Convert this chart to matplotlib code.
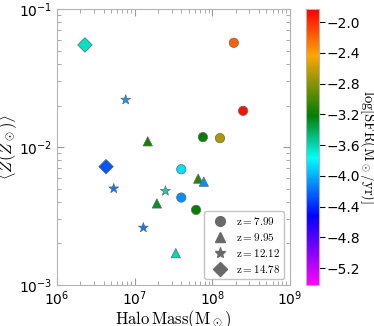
import matplotlib
matplotlib.use("Agg")
import matplotlib.pyplot as plt
from matplotlib.colors import LinearSegmentedColormap, Normalize
from matplotlib.lines import Line2D

# halo mass (Msun), mean metallicity (Zsun), log SFR (Msun/yr) per redshift
mass_z799 = [4.0e7, 4.0e7, 6.2e7, 7.6e7, 1.26e8, 2.5e8, 1.9e8]
metal_z799 = [0.0069, 0.0043, 0.0035, 0.0118, 0.0116, 0.0183, 0.057]
sfr_z799 = [-3.85, -4.1, -3.21, -3.21, -2.69, -1.9, -2.19]

mass_z995 = [1.48e7, 1.94e7, 3.4e7, 6.6e7, 7.8e7]
metal_z995 = [0.011, 0.0039, 0.0017, 0.0059, 0.0056]
sfr_z995 = [-3.15, -3.3, -3.6, -3.1, -4.1]

mass_z1212 = [7.7e6, 5.4e6, 2.5e7, 1.3e7]
metal_z1212 = [0.022, 0.0050, 0.0048, 0.0026]
sfr_z1212 = [-4.05, -4.15, -3.6, -4.15]

mass_z1478 = [2.3e6, 4.3e6]
metal_z1478 = [0.055, 0.0072]
sfr_z1478 = [-3.65, -4.27]

labels = [r'$\rm z=7.99$', r'$\rm z=9.95$', r'$\rm z=12.12$', r'$\rm z=14.78$']

cmap = LinearSegmentedColormap.from_list('sfr', [
    (0.0, (1.0, 0.0, 1.0)),
    (0.25, (0.0, 0.0, 1.0)),
    (0.46, (0.0, 1.0, 1.0)),
    (0.615, (0.0, 0.5, 0.0)),
    (0.833, (1.0, 0.65, 0.0)),
    (1.0, (1.0, 0.0, 0.0)),
])
norm = Normalize(vmin=-5.42, vmax=-1.83)

fig = plt.figure(figsize=(3.74, 3.26), dpi=100)
ax = fig.add_axes([0.152, 0.126, 0.623, 0.846])
cax = fig.add_axes([0.818, 0.126, 0.035, 0.846])

sets = [
    (mass_z799, metal_z799, sfr_z799, 'o', 45),
    (mass_z995, metal_z995, sfr_z995, '^', 45),
    (mass_z1212, metal_z1212, sfr_z1212, '*', 55),
    (mass_z1478, metal_z1478, sfr_z1478, 'D', 55),
]
sc = None
for m, z, s, mk, size in sets:
    sc = ax.scatter(m, z, c=s, cmap=cmap, norm=norm, marker=mk, s=size,
                    edgecolors='0.4', linewidths=0.5, zorder=3)

ax.set_xscale('log')
ax.set_yscale('log')
ax.set_xlim(1e6, 1e9)
ax.set_ylim(1e-3, 1e-1)
ax.tick_params(which='both', direction='in', top=True, right=True,
               color='0.6', labelsize=10)
ax.tick_params(which='major', length=5)
ax.tick_params(which='minor', length=3)
for sp in ax.spines.values():
    sp.set_color('0.7')

ax.set_xlabel(r'$\rm Halo\,Mass(M_\odot)$', fontsize=12, math_fontfamily='cm',
              labelpad=0)
ax.set_ylabel(r'$\langle Z(Z_\odot)\rangle$', fontsize=12, math_fontfamily='cm',
              labelpad=0)

handles = [Line2D([], [], ls='none', marker=mk, color='dimgray',
                  markersize=ms)
           for mk, ms in [('o', 7), ('^', 7), ('*', 8), ('D', 7)]]
leg = ax.legend(handles, labels, loc='lower right',
                frameon=True, handletextpad=0.4, borderpad=0.4,
                labelspacing=0.35, prop={'size': 8, 'math_fontfamily': 'cm'})
leg.get_frame().set_edgecolor('0.7')

cb = fig.colorbar(sc, cax=cax)
cb.set_ticks([-2.0, -2.4, -2.8, -3.2, -3.6, -4.0, -4.4, -4.8, -5.2])
cb.ax.tick_params(labelsize=10, length=4, pad=1.5)
cb.outline.set_edgecolor('0.7')
cb.set_label(r'$\rm log[SFR(M_\odot/yr)]$', fontsize=10.5, rotation=270,
             labelpad=13, math_fontfamily='cm')

fig.savefig('out.png', dpi=100)
